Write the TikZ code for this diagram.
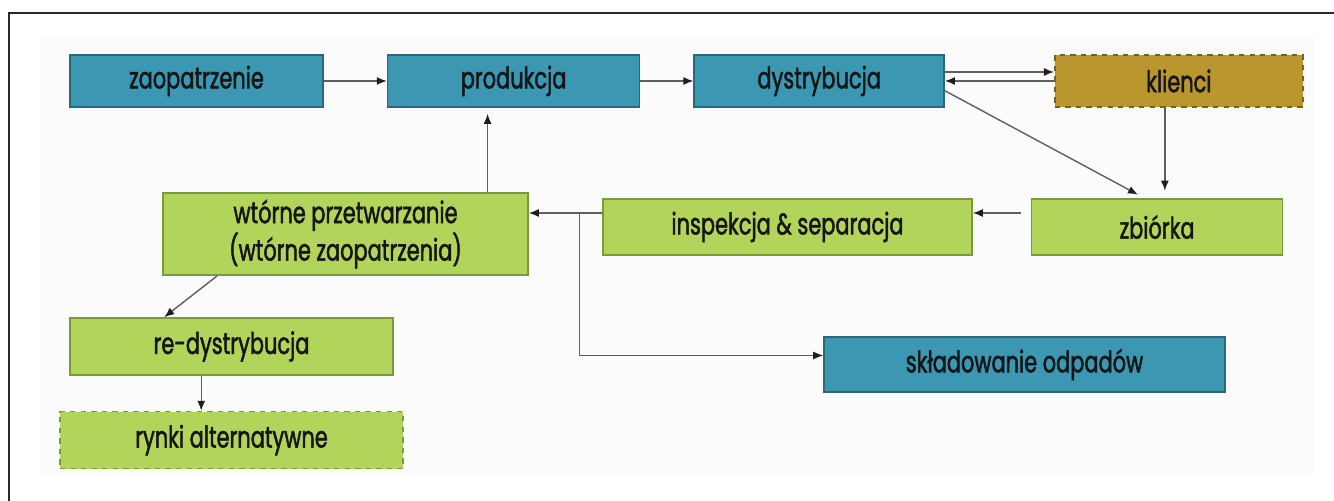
\documentclass[tikz,border=0pt]{standalone}
\usepackage{fontspec}
\setmainfont{Poppins}[FakeStretch=0.7,FakeBold=1.6]
\usetikzlibrary{
  arrows.meta,
  positioning,
  calc
}
\definecolor{tealcolor}{RGB}{60, 151, 178}
\definecolor{tealborder}{RGB}{44, 104, 124}
\definecolor{greencolor}{RGB}{178, 212, 90}
\definecolor{greenborder}{RGB}{120, 156, 60}
\definecolor{goldcolor}{RGB}{186, 150, 46}
\definecolor{goldborder}{RGB}{120, 96, 30}
\definecolor{labelcolor}{RGB}{22, 22, 22}
\definecolor{arrowcolor}{RGB}{95, 95, 95}
\definecolor{tipcolor}{RGB}{30, 30, 30}
\definecolor{panelcolor}{RGB}{251, 251, 251}
\definecolor{framecolor}{RGB}{40, 40, 40}
\tikzset{
blocktext/.style={
  align=center,
  font=\fontsize{17}{20}\selectfont,
  text=labelcolor,
  inner sep=0pt
},
tealblock/.style={
  draw=tealborder,
  line width=0.9pt,
  fill=tealcolor,
  minimum height=10.4mm,
  blocktext
},
greenblock/.style={
  draw=greenborder,
  line width=0.9pt,
  fill=greencolor,
  minimum height=11.2mm,
  blocktext
},
clientblock/.style={
  draw=goldborder,
  dashed,
  line width=1pt,
  fill=goldcolor,
  minimum height=10.4mm,
  blocktext
},
marketblock/.style={
  greenblock,
  draw=greenborder,
  dashed
},
arrow/.style={
  -{Latex[length=2.0mm,width=1.6mm,color=tipcolor]},
  line width=0.8pt,
  draw=arrowcolor
}
}
\begin{document}
\begin{tikzpicture}
  \useasboundingbox (0,0) rectangle (26.68,10.02);
  % frame and light panel
  \fill[panelcolor] (0.8,0.52) rectangle (26.28,9.32);
  \draw[framecolor, line width=0.8pt] (0.18,0) -- (0.18,9.76) -- (26.68,9.76);

  % top row
  \node[tealblock, minimum width=50.6mm] (zaop) at (3.93,8.40) {zaopatrzenie};
  \node[tealblock, right=12.6mm of zaop, minimum width=50.4mm] (prod) {produkcja};
  \node[tealblock, right=10.6mm of prod, minimum width=50mm] (dyst) {dystrybucja};
  \node[clientblock, right=21.8mm of dyst, minimum width=49.6mm] (klienci) {klienci};

  % middle row
  \node[greenblock, minimum width=73mm, minimum height=16.4mm]
    (wtorne) at (6.91,5.34) {wtórne przetwarzanie\\(wtórne zaopatrzenia)};
  \node[greenblock, minimum width=73.8mm] (insp) at (15.75,5.48) {inspekcja \& separacja};
  \node[greenblock, right=11.6mm of insp, minimum width=50.2mm] (zbiorka) {zbiórka};

  % lower left
  \node[greenblock, minimum width=64.6mm, minimum height=11.4mm]
    (redyst) at (4.63,3.09) {re-dystrybucja};
  \node[marketblock, below=7mm of redyst, minimum width=68.6mm, minimum height=11.4mm]
    (rynki) {rynki alternatywne};
  \node[tealblock, minimum width=80.2mm, minimum height=11mm]
    (sklad) at (20.49,2.73) {składowanie odpadów};

  \draw[arrow] (zaop) -- (prod);
  \draw[arrow] (prod) -- (dyst);
  \draw[arrow] ([yshift=1.8mm]dyst.east) -- ([yshift=1.8mm]klienci.west);
  \draw[arrow] (klienci.west) -- (dyst.east);
  \draw[arrow, shorten >=1.5mm] ([yshift=3.4mm]dyst.south east) -- ([xshift=-2.5mm]zbiorka.north);
  \draw[arrow, shorten >=1.5mm] ([xshift=-2.8mm]klienci.south) -- ([xshift=-2.8mm]klienci.south |- zbiorka.north);
  \draw[arrow, shorten <=2mm] ([yshift=2.8mm]zbiorka.west) -- ([yshift=2.8mm]insp.east);
  \draw[arrow] ([yshift=2.8mm]insp.west) -- ([yshift=2.8mm]insp.west -| wtorne.east);

  % branch to waste disposal
  \coordinate (split) at ($([yshift=2.8mm]insp.west)+(-0.46,0)$);
  \draw[arrow] (split) |- ([yshift=1.8mm]sklad.west);

  \draw[arrow, shorten >=1.2mm] ([xshift=-5.2mm]prod.south |- wtorne.north) -- ([xshift=-5.2mm]prod.south);
  \draw[arrow] ([xshift=11mm]wtorne.south west) -- ([xshift=19mm]redyst.north west);
  \draw[arrow] ([xshift=26.4mm]redyst.south west) -- ([xshift=26.4mm]redyst.south west |- rynki.north);
\end{tikzpicture}
\end{document}
